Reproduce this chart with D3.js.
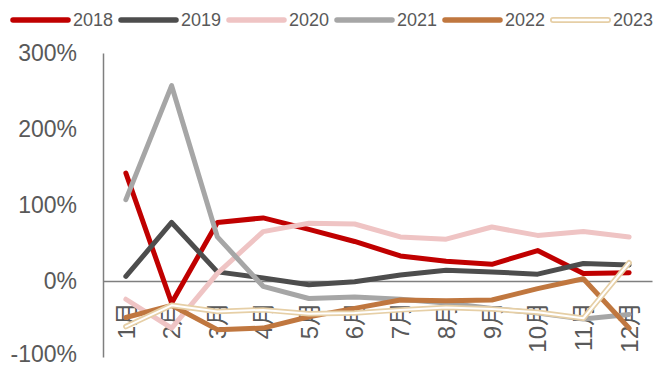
<!DOCTYPE html>
<meta charset="utf-8">
<script src="https://cdn.jsdelivr.net/npm/d3@7"></script>
<style>
body { margin: 0; background: #fff; }
text { font-family: "Liberation Sans", Arial, "Noto Sans CJK SC", sans-serif; fill: #595959; }
</style>
<body>
<script>

var width = 654
var height = 367

// data (percent)
var months = ["1月", "2月", "3月", "4月", "5月", "6月", "7月", "8月", "9月", "10月", "11月", "12月"]
var years = ["2018", "2019", "2020", "2021", "2022", "2023"]
var s2018 = [142, -29, 77, 83, 68, 52, 33, 26, 22, 40, 10, 11]
var s2019 = [6, 77, 12, 4, -5, -1, 8, 14, 12, 9, 23, 21]
var s2020 = [-24, -62, 10, 65, 76, 75, 58, 55, 71, 60, 65, 58]
var s2021 = [107, 257, 58, -7, -23, -21, -24, -29, -36, -42, -50, -44]
var s2022 = [-48, -32, -64, -62, -47, -36, -25, -26, -25, -10, 3, -62]
var s2023 = [-60, -32, -40, -38, -43, -42, -38, -35, -37, -41, -49, 24]
var yTicks = [-100, 0, 100, 200, 300]

var series = [s2018, s2019, s2020, s2021, s2022, s2023]
var colors = ["#c00000", "#4d4d4d", "#efc4c4", "#a6a6a6", "#c0773f", "#e6cfa6"]

var svg = d3.select("body").append("svg")
            .attr("width", width)
            .attr("height", height)

var x = d3.scaleBand().domain(months).range([103, 652])
var y = d3.scaleLinear().domain([-100, 300]).range([357, 53])
var cx = function(d) { return x(d) + x.bandwidth() / 2 }

// y axis
var yAxis = svg.append("g")
   .attr("transform", "translate(103,0)")
   .call(d3.axisLeft(y).tickValues(yTicks).tickSize(0).tickPadding(26)
           .tickFormat(function(d) { return d + "%" }))
yAxis.select(".domain").attr("stroke", "#7f7f7f").attr("stroke-width", 1.5)
yAxis.selectAll("text").style("font-size", "23px").style("font-family", null).attr("fill", null)
// bottom label sits on the edge, keep it inside
yAxis.selectAll("text").filter(function(d) { return d == -100 }).attr("y", -3)

// x axis on the zero line, labels turned
var xAxis = svg.append("g")
   .attr("transform", "translate(0," + y(0) + ")")
   .call(d3.axisBottom(x).tickSize(0).tickSizeOuter(0))
xAxis.select(".domain").attr("stroke", "#7f7f7f").attr("stroke-width", 1.5)
xAxis.selectAll("text")
     .style("font-size", "24px").style("font-family", null).attr("fill", null)
     .attr("transform", "rotate(-90)")
     .attr("text-anchor", "end")
     .attr("x", -21)
     .attr("y", 0)
     .attr("dy", "0.36em")

var line = d3.line()
             .x(function(d, i) { return cx(months[i]) })
             .y(function(d) { return y(d) })

series.forEach(function(s, i) {
  svg.append("path")
     .attr("d", line(s))
     .attr("fill", "none")
     .attr("stroke", colors[i])
     .attr("stroke-width", i == 5 ? 5.5 : 5)
     .attr("stroke-linejoin", "round")
     .attr("stroke-linecap", "round")
  if (i == 5) {
    svg.append("path")
       .attr("d", line(s))
       .attr("fill", "none")
       .attr("stroke", "#fff")
       .attr("stroke-width", 2)
       .attr("stroke-linejoin", "round")
       .attr("stroke-linecap", "round")
  }
})

// legend
var legend = svg.append("g")
years.forEach(function(yr, i) {
  var lx = 13 + i * 108
  legend.append("line")
        .attr("x1", lx).attr("x2", lx + 55)
        .attr("y1", 20).attr("y2", 20)
        .attr("stroke", colors[i])
        .attr("stroke-width", i == 5 ? 6 : 5.5)
        .attr("stroke-linecap", "round")
  if (i == 5) {
    legend.append("line")
          .attr("x1", lx).attr("x2", lx + 55)
          .attr("y1", 20).attr("y2", 20)
          .attr("stroke", "#fff")
          .attr("stroke-width", 2.5)
          .attr("stroke-linecap", "round")
  }
  legend.append("text")
        .attr("x", lx + 60)
        .attr("y", 20)
        .attr("dy", "0.35em")
        .style("font-size", "18px")
        .text(yr)
})

</script>
</body>
